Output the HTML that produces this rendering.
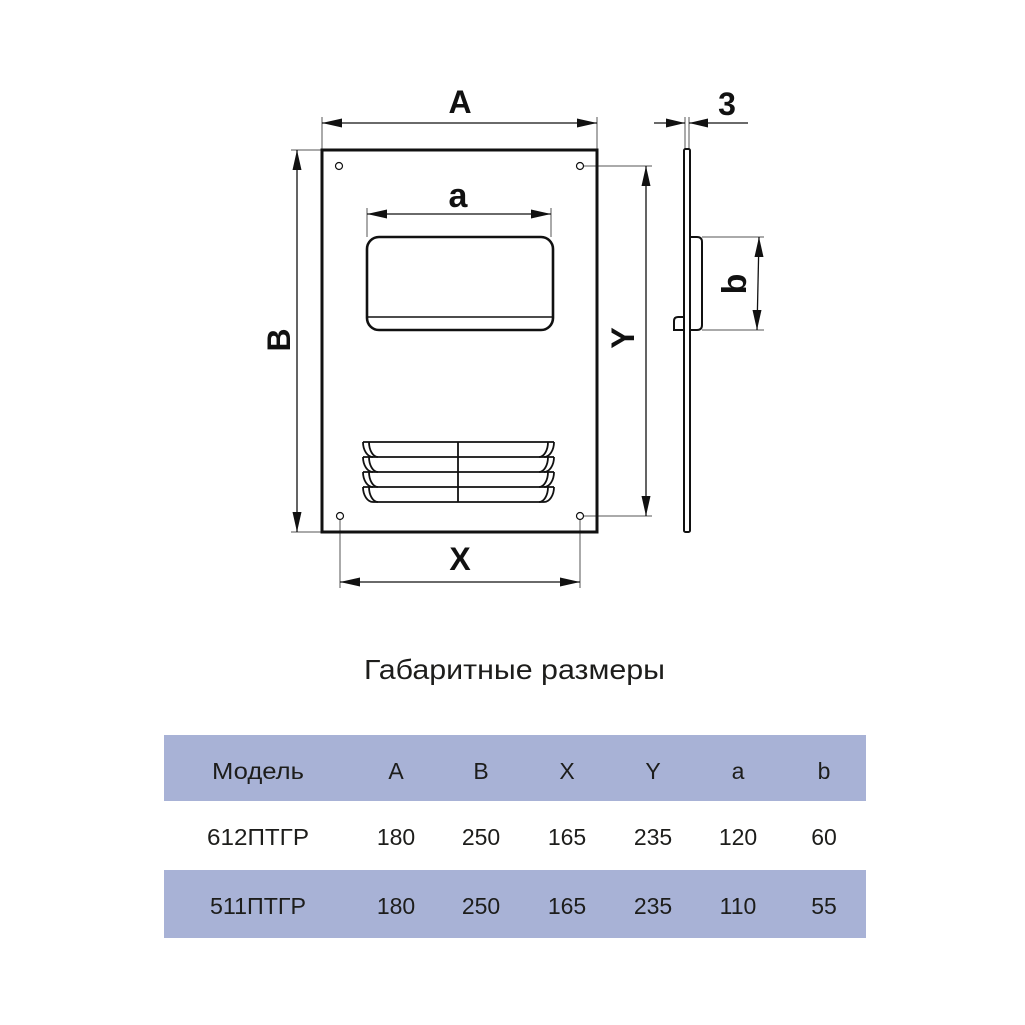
<!DOCTYPE html>
<html>
<head>
<meta charset="utf-8">
<style>
  html,body{margin:0;padding:0;background:#fff;}
  svg{display:block;}
  .lbl{font-family:"Liberation Sans",Arial,sans-serif;font-weight:bold;fill:#111;}
  .tt{font-family:"Liberation Sans","Noto Sans CJK SC",sans-serif;fill:#1d1d1b;}
</style>
</head>
<body>
<svg width="1025" height="1025" viewBox="0 0 1025 1025" xmlns="http://www.w3.org/2000/svg">
  <rect x="0" y="0" width="1025" height="1025" fill="#fff"/>

  <!-- extension lines (thin gray) -->
  <g stroke="#555" stroke-width="1" fill="none">
    <line x1="322" y1="117" x2="322" y2="150"/>
    <line x1="597" y1="117" x2="597" y2="150"/>
    <line x1="291" y1="150" x2="322" y2="150"/>
    <line x1="291" y1="532" x2="322" y2="532"/>
    <line x1="340" y1="516" x2="340" y2="588"/>
    <line x1="580" y1="516" x2="580" y2="588"/>
    <line x1="580" y1="166" x2="652" y2="166"/>
    <line x1="580" y1="516" x2="652" y2="516"/>
    <line x1="367" y1="208" x2="367" y2="237"/>
    <line x1="551" y1="208" x2="551" y2="237"/>
    <line x1="685" y1="117" x2="685" y2="149"/>
    <line x1="689" y1="117" x2="689" y2="149"/>
    <line x1="702" y1="237" x2="764" y2="237"/>
    <line x1="702" y1="330" x2="764" y2="330"/>
  </g>

  <!-- dimension lines -->
  <g stroke="#111" stroke-width="1.3" fill="none">
    <line x1="322" y1="123" x2="597" y2="123"/>
    <line x1="297" y1="150" x2="297" y2="532"/>
    <line x1="340" y1="582" x2="580" y2="582"/>
    <line x1="646" y1="166" x2="646" y2="516"/>
    <line x1="367" y1="214" x2="551" y2="214"/>
    <line x1="654" y1="123" x2="685" y2="123"/>
    <line x1="689" y1="123" x2="748" y2="123"/>
    <line x1="759" y1="237" x2="757" y2="330"/>
  </g>

  <!-- arrowheads -->
  <g fill="#111">
    <polygon points="322,123 342,118.5 342,127.5"/>
    <polygon points="597,123 577,118.5 577,127.5"/>
    <polygon points="297,150 292.5,170 301.5,170"/>
    <polygon points="297,532 292.5,512 301.5,512"/>
    <polygon points="340,582 360,577.5 360,586.5"/>
    <polygon points="580,582 560,577.5 560,586.5"/>
    <polygon points="646,166 641.5,186 650.5,186"/>
    <polygon points="646,516 641.5,496 650.5,496"/>
    <polygon points="367,214 387,209.5 387,218.5"/>
    <polygon points="551,214 531,209.5 531,218.5"/>
    <polygon points="685,123 666,118.5 666,127.5"/>
    <polygon points="689,123 708,118.5 708,127.5"/>
    <polygon points="759,237 754.5,257 763.5,257"/>
    <polygon points="757,330 752.5,310 761.5,310"/>
  </g>

  <!-- main plate -->
  <rect x="322" y="150" width="275" height="382" fill="none" stroke="#111" stroke-width="3"/>

  <!-- holes -->
  <g fill="#fff" stroke="#111" stroke-width="1.2">
    <circle cx="339" cy="166" r="3.5"/>
    <circle cx="580" cy="166" r="3.5"/>
    <circle cx="340" cy="516" r="3.5"/>
    <circle cx="580" cy="516" r="3.5"/>
  </g>

  <!-- window -->
  <rect x="367" y="237" width="186" height="93" rx="12" ry="12" fill="none" stroke="#111" stroke-width="2.6"/>
  <line x1="367" y1="317" x2="553" y2="317" stroke="#111" stroke-width="1.6"/>

  <!-- grille -->
  <g fill="none" stroke="#111" stroke-width="1.8">
    <path d="M363,442 H554 M363,457 H554 M363,472 H554 M363,487 H554 M373,502 H544"/>
    <path d="M363,442 A10,15 0 0 0 373,457 M369,442 A9,15 0 0 0 378,457 M554,442 A10,15 0 0 1 544,457 M548,442 A9,15 0 0 1 539,457"/>
    <path d="M363,457 A10,15 0 0 0 373,472 M369,457 A9,15 0 0 0 378,472 M554,457 A10,15 0 0 1 544,472 M548,457 A9,15 0 0 1 539,472"/>
    <path d="M363,472 A10,15 0 0 0 373,487 M369,472 A9,15 0 0 0 378,487 M554,472 A10,15 0 0 1 544,487 M548,472 A9,15 0 0 1 539,487"/>
    <path d="M363,487 A10,15 0 0 0 373,502 M369,487 A9,15 0 0 0 378,502 M554,487 A10,15 0 0 1 544,502 M548,487 A9,15 0 0 1 539,502"/>
    <line x1="458" y1="442" x2="458" y2="502"/>
  </g>

  <!-- side view -->
  <g fill="#fff" stroke="#111" stroke-width="2">
    <path d="M690,237 H697 Q702,237 702,242 V325 Q702,330 697,330 H690"/>
    <path d="M684,317 H678 Q674,317 674,321 V330 H684"/>
    <rect x="684" y="149" width="6" height="383" rx="1.5" ry="1.5"/>
  </g>

  <!-- labels -->
  <text class="lbl" x="460" y="113" font-size="32" text-anchor="middle">A</text>
  <text class="lbl" x="458" y="207" font-size="34" text-anchor="middle">a</text>
  <text class="lbl" x="460" y="570" font-size="32" text-anchor="middle">X</text>
  <text class="lbl" x="727" y="115" font-size="32" text-anchor="middle">3</text>
  <text class="lbl" font-size="32" text-anchor="middle" transform="translate(290,340) rotate(-90)">B</text>
  <text class="lbl" font-size="32" text-anchor="middle" transform="translate(634,338) rotate(-90)">Y</text>
  <text class="lbl" font-size="34" text-anchor="middle" transform="translate(746,284) rotate(-90)">b</text>

  <!-- title -->
  <text class="tt" x="364" y="679" font-size="28" textLength="301" lengthAdjust="spacingAndGlyphs">Габаритные размеры</text>

  <!-- table -->
  <rect x="164" y="735" width="702" height="66" fill="#a8b2d6"/>
  <rect x="164" y="870" width="702" height="68" fill="#a8b2d6"/>

  <g class="tt" font-size="23" text-anchor="middle">
    <text x="258" y="779" textLength="92" lengthAdjust="spacingAndGlyphs">Модель</text>
    <text x="396" y="779">A</text>
    <text x="481" y="779">B</text>
    <text x="567" y="779">X</text>
    <text x="653" y="779">Y</text>
    <text x="738" y="779">a</text>
    <text x="824" y="779">b</text>

    <text x="258" y="845" textLength="102" lengthAdjust="spacingAndGlyphs">612ПТГР</text>
    <text x="396" y="845">180</text>
    <text x="481" y="845">250</text>
    <text x="567" y="845">165</text>
    <text x="653" y="845">235</text>
    <text x="738" y="845">120</text>
    <text x="824" y="845">60</text>

    <text x="258" y="914" textLength="96" lengthAdjust="spacingAndGlyphs">511ПТГР</text>
    <text x="396" y="914">180</text>
    <text x="481" y="914">250</text>
    <text x="567" y="914">165</text>
    <text x="653" y="914">235</text>
    <text x="738" y="914">110</text>
    <text x="824" y="914">55</text>
  </g>
</svg>
</body>
</html>
